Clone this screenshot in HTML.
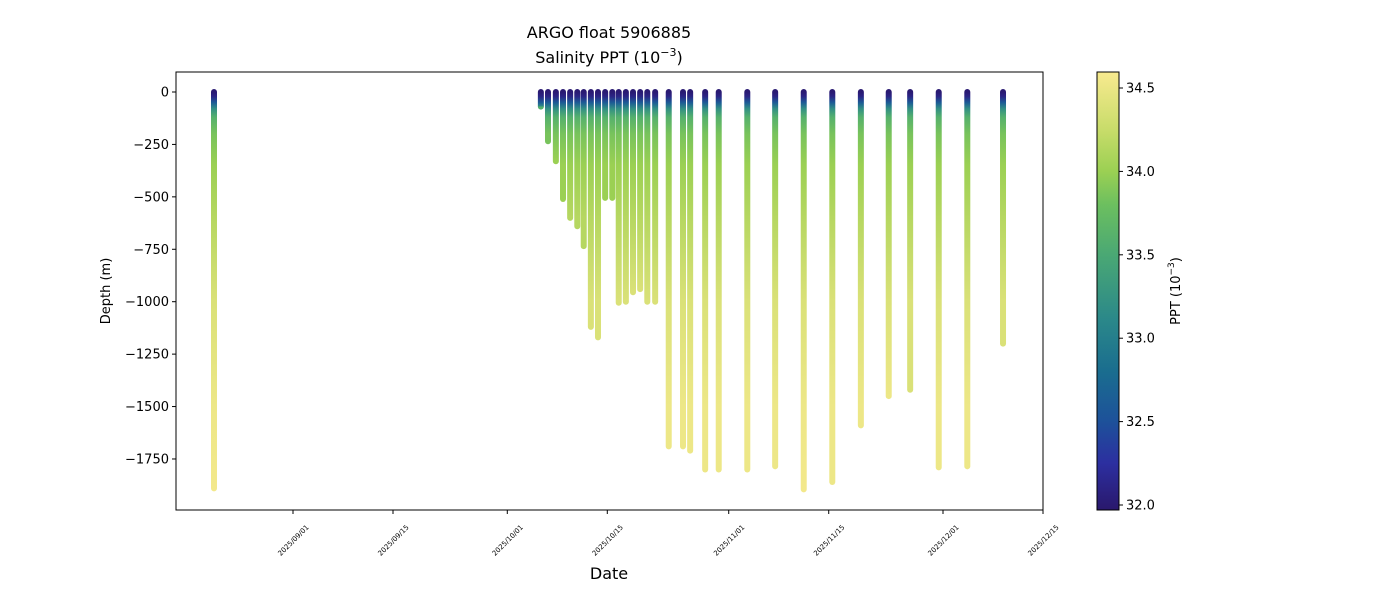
<!DOCTYPE html>
<html><head><meta charset="utf-8"><style>
body{margin:0;background:#fff;}
svg text{font-family:"DejaVu Sans","Liberation Sans",sans-serif;fill:#000;}
</style></head><body>
<svg id="chart" width="1400" height="600" xmlns="http://www.w3.org/2000/svg">
<defs><linearGradient id="cbgrad" x1="0" y1="1" x2="0" y2="0"></linearGradient></defs>
<text x="609" y="38" font-size="16" text-anchor="middle">ARGO float 5906885</text>
<text x="609" y="63" font-size="16" text-anchor="middle">Salinity PPT (10<tspan dy="-7" font-size="11">−3</tspan><tspan dy="7">)</tspan></text>
<g id="plot"></g>
<text x="609" y="579" font-size="16" text-anchor="middle">Date</text>
<text transform="translate(110,291) rotate(-90)" font-size="13" text-anchor="middle">Depth (m)</text>
<text transform="translate(1180,291) rotate(-90)" font-size="13" text-anchor="middle">PPT (10<tspan dy="-6" font-size="9">−3</tspan><tspan dy="6">)</tspan></text>
</svg>
<script>
// profile dates: days relative to 2025/09/01
const profileDays=[-11.06,34.7,35.7,36.8,37.8,38.8,39.8,40.7,41.7,42.7,43.7,44.7,45.6,46.6,47.6,48.6,49.6,50.7,52.6,54.6,55.6,57.7,59.6,63.6,67.5,71.5,75.5,79.5,83.4,86.4,90.4,94.4,99.4];
const profileMaxDepth=[1890,70,235,330,510,600,640,735,1120,1170,505,505,1005,1000,955,940,1000,1000,1690,1690,1710,1800,1800,1800,1785,1895,1860,1590,1450,1420,1790,1785,1200];
// typical salinity vs depth
const salDepths=[0,20,50,80,120,200,350,600,1000,1500,1950];
const salValues=[32.0,32.1,32.6,33.2,33.6,33.85,34.0,34.15,34.38,34.52,34.56];
const xTickDays=[0,14,30,44,61,75,91,105];
const xTickLabels=["2025/09/01","2025/09/15","2025/10/01","2025/10/15","2025/11/01","2025/11/15","2025/12/01","2025/12/15"];
const yTicks=[0,-250,-500,-750,-1000,-1250,-1500,-1750];
const cbTicks=[32.0,32.5,33.0,33.5,34.0,34.5];

const NS="http://www.w3.org/2000/svg";
const L=176,R=1043,T=72,B=510;
const xs=d=>293+d*7.143;
const ys=v=>92-v*0.2097;
const cbMin=31.97,cbMax=34.596;
const cbY=s=>510-(s-cbMin)/(cbMax-cbMin)*438;
const cmap=[[31.97,"#2a186c"],[32.25,"#2c2fa0"],[32.5,"#1d519a"],[32.8,"#1a6d8f"],[33.1,"#2a878a"],[33.5,"#4aa874"],[33.8,"#6cbf5f"],[34.0,"#9bd053"],[34.25,"#c8dc6a"],[34.6,"#f8ea8f"]];
function hex(h){return [1,3,5].map(i=>parseInt(h.substr(i,2),16));}
function color(s){
 if(s<=cmap[0][0])return cmap[0][1];
 for(let i=1;i<cmap.length;i++){if(s<=cmap[i][0]){const a=hex(cmap[i-1][1]),b=hex(cmap[i][1]);const t=(s-cmap[i-1][0])/(cmap[i][0]-cmap[i-1][0]);return "rgb("+a.map((v,k)=>Math.round(v+(b[k]-v)*t)).join(",")+")";}}
 return cmap[cmap.length-1][1];
}
function el(tag,attrs,parent){const e=document.createElementNS(NS,tag);for(const k in attrs)e.setAttribute(k,attrs[k]);parent.appendChild(e);return e;}
const svg=document.getElementById('chart'),plot=document.getElementById('plot'),defs=svg.querySelector('defs');

const frame=el('rect',{x:L,y:T,width:R-L,height:B-T,fill:'none',stroke:'#000','stroke-width':1},plot);



profileDays.forEach((d,i)=>{
 const md=profileMaxDepth[i];
 const g=el('linearGradient',{id:'pg'+i,gradientUnits:'userSpaceOnUse',x1:0,x2:0,y1:ys(0),y2:ys(-md)},defs);
 salDepths.forEach((dep,j)=>{if(dep<=md+60)el('stop',{offset:Math.min(1,dep/md),'stop-color':color(salValues[j])},g);});
 const ln=el('line',{x1:xs(d),x2:xs(d),y1:ys(0),y2:ys(-md),stroke:'url(#pg'+i+')','stroke-width':6,'stroke-linecap':'round'},plot);
 
 
});

yTicks.forEach(v=>{
 const y=ys(v);
 el('line',{x1:L-4,x2:L,y1:y,y2:y,stroke:'#000'},plot);
 const t=el('text',{x:L-7,y:y+4.5,'font-size':13,'text-anchor':'end'},plot);
 t.textContent=v===0?"0":"−"+Math.abs(v);
 
 
});
xTickDays.forEach((d,i)=>{
 const x=xs(d);
 el('line',{x1:x,x2:x,y1:B,y2:B+4,stroke:'#000'},plot);
 const t=el('text',{transform:`translate(${x+2},${B+32}) rotate(-45)`,'font-size':7,'text-anchor':'middle'},plot);
 t.textContent=xTickLabels[i];
 
 
});

// colorbar
const cg=document.getElementById('cbgrad');
cmap.forEach(c=>el('stop',{offset:(c[0]-cbMin)/(cbMax-cbMin),'stop-color':c[1]},cg));
const cb=el('rect',{x:1097,y:T,width:22,height:B-T,fill:'url(#cbgrad)',stroke:'#000','stroke-width':1},svg);


cbTicks.forEach(s=>{
 const y=cbY(s);
 el('line',{x1:1119,x2:1123,y1:y,y2:y,stroke:'#000'},svg);
 const t=el('text',{x:1126,y:y+4.5,'font-size':13},svg);
 t.textContent=s.toFixed(1);
 
 
});
</script>
</body></html>
